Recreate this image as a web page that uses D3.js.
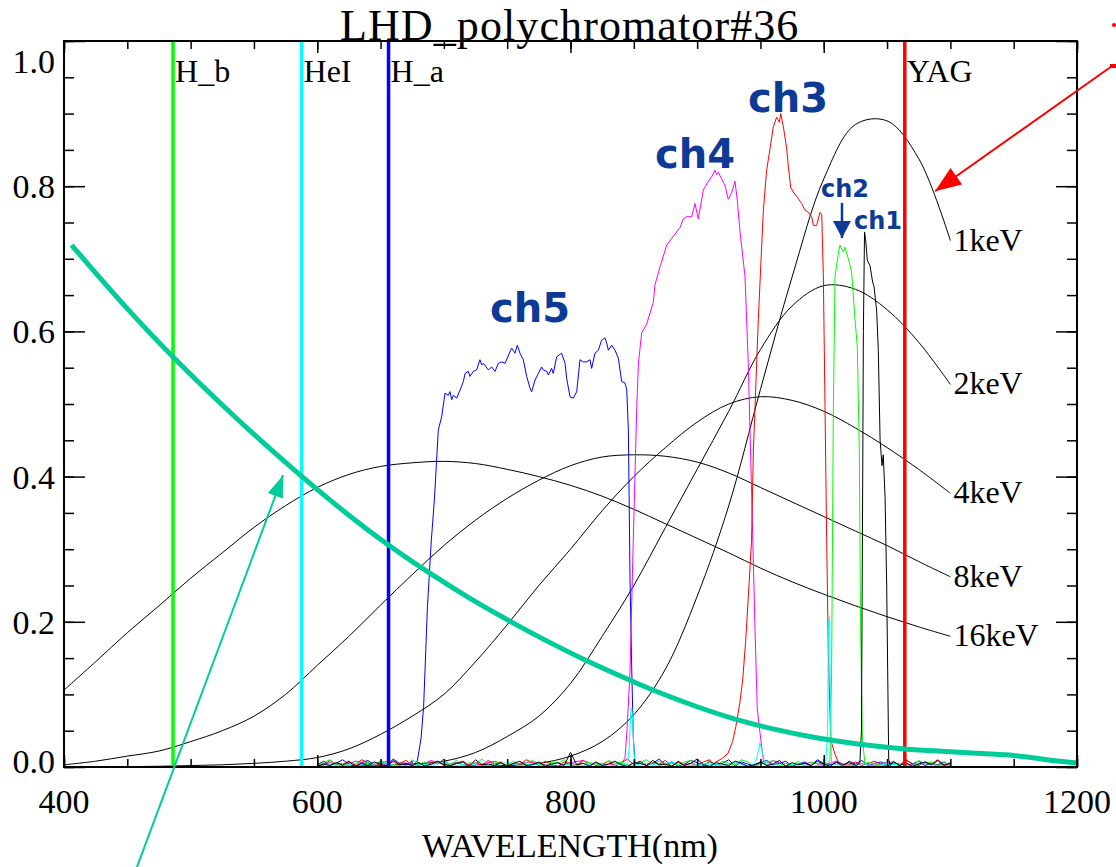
<!DOCTYPE html>
<html><head><meta charset="utf-8">
<script src="https://cdn.jsdelivr.net/npm/d3@7"></script>
<style>body{margin:0;background:#fff} svg{display:block}</style>
</head><body><svg id="c" width="1116" height="867"></svg>
<script>
// ---------------- DATA ----------------
const chartTitle = "LHD_polychromator#36";
const xAxisTitle = "WAVELENGTH(nm)";
const xMajorTicks = [400, 600, 800, 1000, 1200];
const xMinorTicks = [400,450,500,550,600,650,700,750,800,850,900,950,1000,1050,1100,1150,1200];
const yMajorTicks = [0, 0.2, 0.4, 0.6, 0.8, 1.0];
const yTickLabels = ["0.0", "0.2", "0.4", "0.6", "0.8", "1.0"];
const yMinorTicks = [0,0.05,0.1,0.15,0.2,0.25,0.3,0.35,0.4,0.45,0.5,0.55,0.6,0.65,0.7,0.75,0.8,0.85,0.9,0.95,1.0];

// Thomson scattering spectra (black curves)
const tsWavelength = [400,425,450,475,500,525,550,575,600,625,650,675,700,725,750,775,800,825,850,875,900,925,950,975,1000,1025,1050,1075,1100];
const tsLabels = ["1keV", "2keV", "4keV", "8keV", "16keV"];
const ts1keV  = [0,0,0,0,0,0,0,0,0,0,0,0,0,0.001,0.002,0.005,0.015,0.035,0.072,0.135,0.235,0.36,0.52,0.675,0.81,0.885,0.89,0.838,0.725];
const ts2keV  = [0,0,0,0,0,0,0,0,0.0005,0.001,0.002,0.004,0.008,0.02,0.042,0.07,0.115,0.18,0.25,0.33,0.41,0.49,0.575,0.635,0.663,0.658,0.63,0.585,0.527];
const ts4keV  = [0,0,0.0005,0.001,0.002,0.003,0.005,0.008,0.013,0.025,0.045,0.07,0.1,0.145,0.196,0.25,0.3,0.353,0.4,0.44,0.475,0.5,0.51,0.505,0.49,0.467,0.44,0.41,0.377];
const ts8keV  = [0.003,0.008,0.015,0.022,0.035,0.05,0.07,0.1,0.14,0.18,0.223,0.265,0.305,0.34,0.37,0.395,0.415,0.427,0.43,0.428,0.42,0.405,0.385,0.365,0.345,0.325,0.305,0.283,0.262];
const ts16keV = [0.106,0.145,0.185,0.222,0.26,0.295,0.33,0.36,0.385,0.403,0.414,0.419,0.421,0.418,0.41,0.40,0.388,0.373,0.355,0.335,0.315,0.295,0.274,0.255,0.238,0.222,0.207,0.193,0.18];

// Teal curve
const tealWavelength = [406,446,486,537,588,622,656,687,720,752,782,812,849,868,900,930,960,993,1030,1064,1100,1125,1150,1165,1181,1200];
const tealValue = [0.719,0.639,0.565,0.479,0.400,0.351,0.306,0.269,0.233,0.201,0.173,0.147,0.118,0.104,0.083,0.066,0.0525,0.0406,0.031,0.0249,0.021,0.0185,0.0158,0.0128,0.009,0.0055];

// Spectral lines
const lineNames = ["H_b", "HeI", "H_a", "YAG"];
const lineWavelength = [486.1, 587.6, 656.3, 1064];

// Polychromator channel transmissions [wavelength, value]
const ch5 = [[675,0.002],[679,0.008],[682,0.04],[684,0.083],[687,0.22],[690,0.31],[692.5,0.368],[695.6,0.464],[698.3,0.483],[700.9,0.515],[703.5,0.512],[704.8,0.517],[706.2,0.506],[707.5,0.512],[710.1,0.508],[712.7,0.519],[715.4,0.531],[716.7,0.542],[719.3,0.545],[720.6,0.538],[723.3,0.545],[725.9,0.547],[728.5,0.561],[729.8,0.554],[731.2,0.556],[735.1,0.547],[737.8,0.551],[740.4,0.545],[743.0,0.556],[745.6,0.558],[748.3,0.556],[752.2,0.572],[753.5,0.577],[756.2,0.570],[758.0,0.581],[760.1,0.570],[762.7,0.561],[765.4,0.538],[768.0,0.522],[769.3,0.517],[772.0,0.533],[774.6,0.542],[777.2,0.551],[778.5,0.547],[781.2,0.545],[782.5,0.540],[785.1,0.549],[786.4,0.542],[789.1,0.565],[793.0,0.570],[795.7,0.556],[797.0,0.535],[799.6,0.510],[802.2,0.508],[804.9,0.517],[807.5,0.561],[810.1,0.558],[812.8,0.558],[815.4,0.561],[816.7,0.549],[819.3,0.570],[822.0,0.574],[824.6,0.588],[827.2,0.591],[828.6,0.584],[829.9,0.574],[832.5,0.581],[835.2,0.574],[837.8,0.563],[840.4,0.531],[843.0,0.529],[844.4,0.52],[845.7,0.464],[847,0.26],[848.3,0.14],[849.6,0.04],[851,0.005]];
const ch4 = [[840,0.004],[843,0.012],[844.6,0.05],[847.0,0.131],[849.6,0.313],[852.3,0.495],[853.6,0.555],[856.2,0.598],[860.1,0.610],[865.4,0.640],[866.7,0.664],[870.7,0.689],[876.0,0.719],[881.2,0.731],[886.5,0.743],[889.1,0.755],[891.7,0.758],[895.7,0.758],[898.3,0.776],[900.9,0.755],[904.9,0.795],[908.9,0.807],[911.5,0.813],[914.1,0.822],[915.4,0.816],[916.8,0.819],[919.4,0.810],[922.0,0.801],[924.6,0.782],[927.3,0.791],[929.9,0.807],[931.8,0.779],[933.9,0.737],[937.8,0.676],[940.4,0.555],[943.1,0.373],[945.7,0.191],[947.5,0.08],[949.7,0.046],[952.3,0.010],[955,0.002]];
const ch3 = [[912,0.003],[915,0.007],[920,0.012],[924.4,0.019],[928,0.035],[930.6,0.056],[933.7,0.088],[936,0.12],[938.4,0.175],[941.5,0.267],[943,0.313],[944.4,0.434],[948.3,0.616],[952.3,0.767],[954.9,0.822],[957.6,0.852],[960.2,0.882],[962.8,0.895],[965.0,0.888],[966.0,0.900],[968.1,0.882],[970.7,0.852],[972.0,0.828],[973.9,0.798],[976.0,0.792],[978.6,0.786],[982.6,0.776],[985.2,0.767],[987.8,0.764],[990.5,0.758],[991.8,0.746],[994.4,0.746],[997.0,0.764],[998.4,0.761],[999.7,0.676],[1001.0,0.495],[1002.3,0.313],[1003.6,0.161],[1005.0,0.07],[1005.6,0.037],[1008.6,0.019],[1011.7,0.006],[1014,0.002]];
const ch2 = [[1003,0.002],[1004.9,0.01],[1006.2,0.131],[1007.6,0.495],[1008.9,0.676],[1011.5,0.707],[1012.8,0.719],[1013.4,0.716],[1015.5,0.710],[1016.8,0.716],[1019.4,0.700],[1022.0,0.682],[1024.7,0.616],[1026.5,0.579],[1028.1,0.434],[1029.1,0.191],[1030.5,0.040],[1032.6,0.003]];
const ch1 = [[1026,0.002],[1028.5,0.006],[1029.8,0.05],[1030.5,0.3],[1031.3,0.6],[1032.2,0.737],[1033,0.728],[1034.4,0.698],[1036.5,0.691],[1038.6,0.668],[1039.7,0.662],[1041.8,0.628],[1043.1,0.574],[1044.5,0.45],[1046,0.415],[1047,0.43],[1048.4,0.373],[1049.7,0.252],[1050.5,0.131],[1051.3,0.01],[1052.5,0.002]];
const chCyan = [[845,0.003],[846.5,0.03],[847.5,0.075],[848.3,0.082],[849.2,0.06],[850.5,0.01],[852,0.003],[945,0.003],[947.5,0.015],[949.5,0.033],[951,0.025],[953,0.008],[955,0.002],[1001.5,0.003],[1003,0.05],[1003.8,0.2],[1004.6,0.207],[1005.3,0.08],[1006.2,0.005]];

// Baseline noise (thousandths), starting at 600 nm
const noiseBlue  = [3,8,2,5,10,4,1,6,9,3,7,2,11,5,3,8,4,2,6,9,1,5,7,3,10,4,2,8,5,1,6,3,9,4,7,2,5,8,3,1,6,10,4,2,7,5,3,9,1,6,4,8,2,5,11,3,7,1,4,9,6,2,8,3,5,10,1,7,4,2,6,9,3,5,8,1,4,7,2,10,5,3,6,1,8,4,9,2,5,7,3,6,1,10,4,8,2,5,3,7,2];
const noiseRed   = [5,2,9,4,1,7,3,10,6,2,4,8,1,5,9,3,6,2,7,4,11,1,5,8,3,6,2,9,4,7,1,5,3,10,6,2,8,4,1,7,5,3,9,2,6,4,8,1,5,11,3,7,2,6,4,9,1,8,3,5,2,7,10,4,1,6,3,8,5,2,9,4,7,1,6,3,10,5,2,8,4,6,1,9,3,7,2,5,8,4,1,6,3,9,5,2,7,4,10,3,6];
const noiseGreen = [2,6,10,3,5,1,8,4,7,2,9,5,3,6,1,10,4,7,2,8,5,3,9,1,6,4,11,2,7,5,3,8,1,6,9,4,2,7,5,10,3,1,8,6,4,2,9,5,7,3,1,6,10,4,8,2,5,3,7,9,1,4,6,2,8,5,3,10,7,1,4,6,9,2,5,3,8,1,7,4,6,2,10,5,3,9,1,7,4,2,8,6,3,5,1,9,4,7,2,6,3];
const noiseBlack = [1,4,2,6,3,8,1,5,2,7,4,1,9,3,5,2,6,1,4,8,3,2,5,7,1,10,3,4,2,6,1,5,8,2,3,7,1,4,6,2,20,3,5,1,7,2,4,8,3,1,6,5,2,9,3,4,1,7,2,5,11,3,1,6,4,2,8,5,1,3,7,2,4,9,1,6,3,5,2,8,4,1,7,3,6,2,10,4,1,5,3,8,2,6,1,4,7,3,9,2,5];
const noiseMagenta = [3,6,2,8,4,1,7,5,2,9,3,6,1,4,8,2,5,7,3,1,6,9,2,4,7,3,5,1,8,2,6,4,3,7,1,5,9,2,4,6,3,8,1,5,2,7,4,3,6,2,5];
const noiseCyan    = [2,4,1,5,3,6,2,1,4,3,7,2,5,1,3,6,2,4,1,5,3,2,6,1,4,3,5,2,7,1,3,4,2,6,1,5,3,2,4,1,6,3,2,5,1,4,3,2,6,1,3];

// ---------------- DRAWING ----------------
const svg = d3.select('#c');
const x = d3.scaleLinear().domain([400, 1200]).range([64, 1077]);
const y = d3.scaleLinear().domain([0, 1]).range([767, 41]);
const serif = '"Liberation Serif","Times New Roman",serif';
const labelFont = '"Comic Sans MS","DejaVu Sans",sans-serif';
const navy = '#0d3a94';
const teal = '#00cc99';

function buildNoise(vals, step) {
  const out = [];
  vals.forEach((v, i) => { const wl = 600 + i * step; if (wl <= 1100) out.push([wl, v / 1000]); });
  return out;
}
function merge(core, noise, windows) {
  const pts = noise.filter(p => !windows.some(w => p[0] >= w[0] && p[0] <= w[1])).concat(core);
  return pts.sort((a, b) => a[0] - b[0]);
}

const lin = d3.line().x(d => x(d[0])).y(d => y(d[1]));
const smooth = d3.line().x(d => x(d[0])).y(d => y(Math.max(0, d[1]))).curve(d3.curveCatmullRom.alpha(0.5));

// Thomson curves
const tsSeries = [ts1keV, ts2keV, ts4keV, ts8keV, ts16keV];
const gTs = svg.append('g');
tsSeries.forEach(vals => {
  const pts = tsWavelength.map((w, i) => [w, vals[i]]);
  gTs.append('path').attr('d', smooth(pts)).attr('fill', 'none').attr('stroke', '#000').attr('stroke-width', 1);
});

// Channels
const channels = [
  {data: merge(ch5, buildNoise(noiseBlue, 5), [[676, 852]]), color: '#0000ff'},
  {data: merge(ch4, buildNoise(noiseMagenta, 10), [[839, 956]]), color: '#ff00ff'},
  {data: merge(ch3, buildNoise(noiseRed, 5), [[911, 1015]]), color: '#ff0000'},
  {data: merge(ch2, buildNoise(noiseGreen, 5), [[1002, 1033]]), color: '#00ff00'},
  {data: merge(chCyan, buildNoise(noiseCyan, 10), [[844, 853], [944, 956], [1000, 1007]]), color: '#00ffff'},
  {data: merge(ch1, buildNoise(noiseBlack, 5), [[1025, 1053]]), color: '#000000'}
];
const gCh = svg.append('g');
channels.forEach(c => {
  gCh.append('path').attr('d', lin(c.data)).attr('fill', 'none').attr('stroke', c.color).attr('stroke-width', 1);
});

// Vertical spectral lines
const lineColors = ['#00ff00', '#00ffff', '#0000ff', '#ff0000'];
const gV = svg.append('g');
lineNames.forEach((n, i) => {
  const xv = x(lineWavelength[i]);
  gV.append('line').attr('x1', xv).attr('x2', xv).attr('y1', y(1)).attr('y2', y(0))
    .attr('stroke', lineColors[i]).attr('stroke-width', 3.5);
  gV.append('text').attr('x', xv + 2).attr('y', 82).text(n)
    .attr('font-family', serif).attr('font-size', 32).attr('fill', '#000');
});

// Teal curve
svg.append('path').attr('d', smooth(tealWavelength.map((w, i) => [w, tealValue[i]])))
  .attr('fill', 'none').attr('stroke', teal).attr('stroke-width', 5);

// Axes frame & ticks
const gA = svg.append('g');
function styleAxis(g) { g.select('.domain').remove(); g.selectAll('line').attr('stroke', '#000').attr('stroke-width', 1.5); g.selectAll('text').remove(); }
gA.append('g').attr('transform', 'translate(0,767)').call(d3.axisBottom(x).tickValues(xMinorTicks).tickSize(-8)).call(styleAxis);
gA.append('g').attr('transform', 'translate(0,767)').call(d3.axisBottom(x).tickValues(xMajorTicks).tickSize(-12)).call(styleAxis);
gA.append('g').attr('transform', 'translate(0,41)').call(d3.axisTop(x).tickValues(xMinorTicks).tickSize(-8)).call(styleAxis);
gA.append('g').attr('transform', 'translate(0,41)').call(d3.axisTop(x).tickValues(xMajorTicks).tickSize(-12)).call(styleAxis);
gA.append('g').attr('transform', 'translate(64,0)').call(d3.axisLeft(y).tickValues(yMinorTicks).tickSize(-10)).call(styleAxis);
gA.append('g').attr('transform', 'translate(64,0)').call(d3.axisLeft(y).tickValues(yMajorTicks).tickSize(-21)).call(styleAxis);
gA.append('g').attr('transform', 'translate(1077,0)').call(d3.axisRight(y).tickValues(yMinorTicks).tickSize(-10)).call(styleAxis);
gA.append('g').attr('transform', 'translate(1077,0)').call(d3.axisRight(y).tickValues(yMajorTicks).tickSize(-21)).call(styleAxis);
gA.append('rect').attr('x', x(400)).attr('y', y(1)).attr('width', x(1200) - x(400)).attr('height', y(0) - y(1))
  .attr('fill', 'none').attr('stroke', '#000').attr('stroke-width', 2);

// tick labels
xMajorTicks.forEach(v => {
  svg.append('text').attr('x', x(v)).attr('y', 813).attr('text-anchor', 'middle').text(v)
    .attr('font-family', serif).attr('font-size', 34);
});
yMajorTicks.forEach((v, i) => {
  let by = y(v) + 12;
  if (v === 1) by = 73; if (v === 0) by = 773;
  svg.append('text').attr('x', 55).attr('y', by).attr('text-anchor', 'end').text(yTickLabels[i])
    .attr('font-family', serif).attr('font-size', 34);
});

// titles
svg.append('text').attr('x', 340).attr('y', 40).text(chartTitle).attr('font-family', serif)
  .attr('font-size', 44).attr('letter-spacing', 1.1);
svg.append('text').attr('x', 570).attr('y', 857).attr('text-anchor', 'middle').text(xAxisTitle).attr('font-family', serif).attr('font-size', 34);

// Thomson labels at the end of each curve
tsSeries.forEach((vals, i) => {
  svg.append('text').attr('x', x(1100) + 3).attr('y', y(vals[vals.length - 1]) + 10).text(tsLabels[i])
    .attr('font-family', serif).attr('font-size', 32);
});

// channel labels
const chLabels = [
  {t: 'ch5', wl: 736.4, v: 0.613, s: 40},
  {t: 'ch4', wl: 866.7, v: 0.825, s: 40},
  {t: 'ch3', wl: 940.2, v: 0.902, s: 40},
  {t: 'ch2', wl: 997.8, v: 0.785, s: 24},
  {t: 'ch1', wl: 1023.9, v: 0.741, s: 24}
];
chLabels.forEach(c => {
  svg.append('text').attr('x', x(c.wl)).attr('y', y(c.v)).text(c.t)
    .attr('font-family', labelFont).attr('font-weight', 'bold').attr('font-size', c.s).attr('fill', navy);
});

// arrows
function arrow(x1, y1, x2, y2, color, w, hl, hw) {
  svg.append('line').attr('x1', x1).attr('y1', y1).attr('x2', x2).attr('y2', y2).attr('stroke', color).attr('stroke-width', w);
  const a = Math.atan2(y2 - y1, x2 - x1);
  const bx = x2 - hl * Math.cos(a), by = y2 - hl * Math.sin(a);
  const px = -Math.sin(a) * hw, py = Math.cos(a) * hw;
  svg.append('polygon').attr('points', `${x2},${y2} ${bx + px},${by + py} ${bx - px},${by - py}`).attr('fill', color);
}
// ch2 down arrow
arrow(x(1014.4), y(0.777), x(1014.4), y(0.7287), navy, 2.5, 17, 9);
// red arrow towards 1keV
arrow(x(1227.7), y(0.9656), x(1087.9), y(0.793), '#ff0000', 2, 26, 10);
svg.append('rect').attr('x', 1110).attr('y', 64).attr('width', 6).attr('height', 4).attr('fill', '#ff0000');
svg.append('circle').attr('cx', 1114).attr('cy', 25).attr('r', 2).attr('fill', '#ff0000');
// teal arrow
arrow(x(457.6), y(-0.138), x(573), y(0.402), teal, 2, 22, 8);
</script></body></html>
